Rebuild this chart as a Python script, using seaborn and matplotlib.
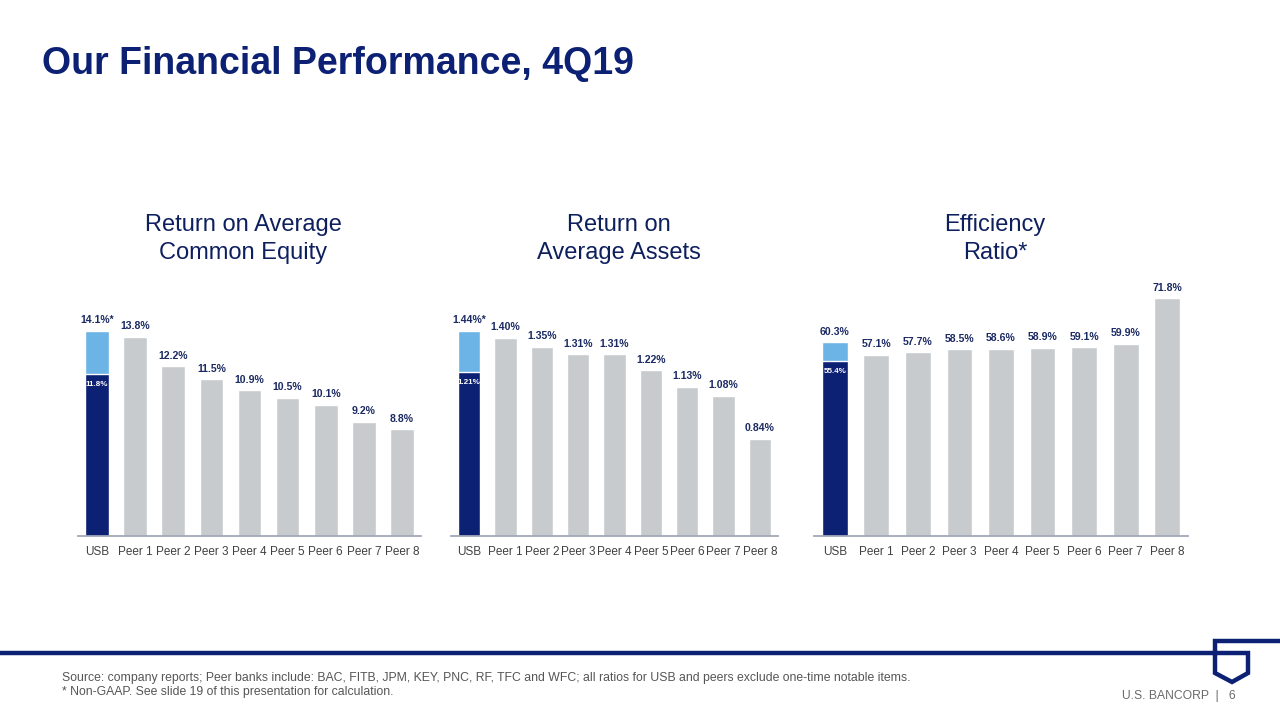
import matplotlib
matplotlib.use("Agg")
import matplotlib.pyplot as plt
import seaborn as sns
import pandas as pd
from matplotlib.lines import Line2D

sns.set_theme(style="white")
plt.rcParams['font.family'] = ['Liberation Sans', 'DejaVu Sans']

# ---------------- data ----------------
categories = ["USB", "Peer 1", "Peer 2", "Peer 3", "Peer 4", "Peer 5", "Peer 6", "Peer 7", "Peer 8"]

roe_values = [14.1, 13.8, 12.2, 11.5, 10.9, 10.5, 10.1, 9.2, 8.8]
roe_usb_core = 11.8
roe_labels = ["14.1%*", "13.8%", "12.2%", "11.5%", "10.9%", "10.5%", "10.1%", "9.2%", "8.8%"]
roe_core_label = "11.8%"

roa_values = [1.44, 1.40, 1.35, 1.31, 1.31, 1.22, 1.13, 1.08, 0.84]
roa_usb_core = 1.21
roa_labels = ["1.44%*", "1.40%", "1.35%", "1.31%", "1.31%", "1.22%", "1.13%", "1.08%", "0.84%"]
roa_core_label = "1.21%"

eff_values = [60.3, 57.1, 57.7, 58.5, 58.6, 58.9, 59.1, 59.9, 71.8]
eff_usb_core = 55.4
eff_labels = ["60.3%", "57.1%", "57.7%", "58.5%", "58.6%", "58.9%", "59.1%", "59.9%", "71.8%"]
eff_core_label = "55.4%"

panel_titles = ["Return on Average\nCommon Equity", "Return on\nAverage Assets", "Efficiency\nRatio*"]

# ---------------- style ----------------
NAVY = "#0C2074"
LIGHT = "#6CB4E6"
GRAY = "#C7CBCE"
LABEL = "#1B2A63"
TICK = "#404040"

W, H = 1280, 720
fig = plt.figure(figsize=(12.8, 7.2), dpi=100)

def px_axes(x0, x1, ytop, ybot):
    return fig.add_axes([x0 / W, (H - ybot) / H, (x1 - x0) / W, (ybot - ytop) / H])

panels = [
    (roe_values, roe_usb_core, roe_labels, roe_core_label, (3.02, 16.86), (78, 421), 243),
    (roa_values, roa_usb_core, roa_labels, roa_core_label, (0.30, 1.722), (451, 778), 619),
    (eff_values, eff_usb_core, eff_labels, eff_core_label, (9.8, 76.6), (814, 1188), 995),
]

for (vals, core, labels, core_label, ylim, (x0, x1), tx), title in zip(panels, panel_titles):
    ax = px_axes(x0, x1, 280, 536)
    df = pd.DataFrame({"bank": categories, "value": vals})
    colors = [LIGHT] + [GRAY] * (len(categories) - 1)
    sns.barplot(data=df, x="bank", y="value", hue="bank", palette=colors, order=categories,
                legend=False, width=0.62, ax=ax, saturation=1)
    core_df = pd.DataFrame({"bank": [categories[0]], "value": [core]})
    sns.barplot(data=core_df, x="bank", y="value", order=categories, color=NAVY,
                width=0.62, ax=ax, saturation=1)
    ax.set_ylim(*ylim)
    ax.set_xlim(-0.5, len(categories) - 0.5)
    for i, (v, lab) in enumerate(zip(vals, labels)):
        ax.annotate(lab, (i, v), xytext=(0, 4), textcoords="offset points",
                    ha="center", va="bottom", fontsize=7.6, fontweight="bold", color=LABEL)
    ax.annotate(core_label, (0, core), xytext=(0, -5), textcoords="offset points",
                ha="center", va="top", fontsize=5.8, fontweight="bold", color="white")
    ax.set_xlabel("")
    ax.set_ylabel("")
    ax.set_yticks([])
    for s in ["top", "right", "left"]:
        ax.spines[s].set_visible(False)
    ax.spines["bottom"].set_color("#A3A8B8")
    ax.spines["bottom"].set_linewidth(1.3)
    ax.tick_params(axis="x", length=0, pad=7, labelsize=8.5, labelcolor=TICK)
    fig.text(tx / W, 1 - 239 / H, title, ha="center", va="center", fontsize=17,
             color="#0E1F5E", linespacing=1.32)

# title
fig.text(42 / W, 1 - 64 / H, "Our Financial Performance, 4Q19", ha="left", va="center",
         fontsize=27, fontweight="bold", color=NAVY)

# footer rule and logo shape
def fline(xs, ys, lw):
    fig.add_artist(Line2D([x / W for x in xs], [1 - y / H for y in ys], color=NAVY,
                          linewidth=lw, solid_capstyle="butt", solid_joinstyle="miter",
                          transform=fig.transFigure))

fline([0, 1248, 1248, 1232, 1215, 1215, 1280], [653, 653, 673, 682, 673, 641, 641], 3.2)

fig.text(62 / W, 1 - 678 / H,
         "Source: company reports; Peer banks include: BAC, FITB, JPM, KEY, PNC, RF, TFC and WFC; "
         "all ratios for USB and peers exclude one-time notable items.",
         ha="left", va="center", fontsize=8.8, color="#555555")
fig.text(62 / W, 1 - 692 / H, "* Non-GAAP. See slide 19 of this presentation for calculation.",
         ha="left", va="center", fontsize=8.8, color="#555555")
fig.text(1236 / W, 1 - 696 / H, "U.S. BANCORP  |   6", ha="right", va="center",
         fontsize=8.7, color="#6B6B6B")

fig.savefig("out.png", dpi=100)
